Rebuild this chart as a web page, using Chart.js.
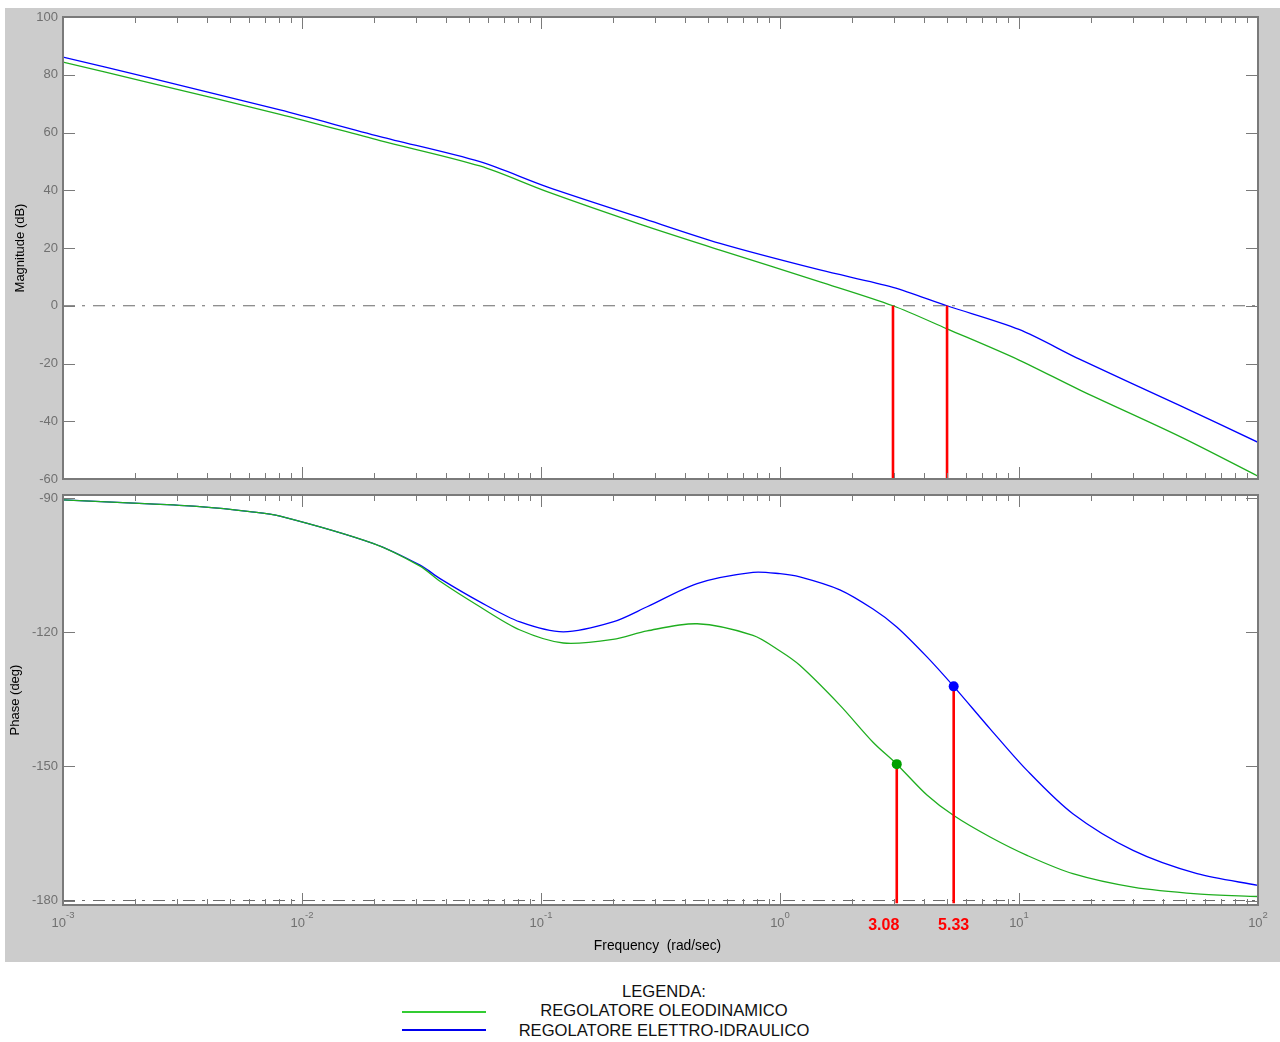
<!DOCTYPE html>
<html>
<head>
<meta charset="utf-8">
<script src="https://cdn.jsdelivr.net/npm/chart.js@4.4.0/dist/chart.umd.min.js"></script>
<style>
  body { margin: 0; background: #fff; width: 1280px; height: 1042px; position: relative; overflow: hidden;
         font-family: "Liberation Sans", Arial, sans-serif; }
  #fig { position: absolute; left: 5px; top: 8px; width: 1275px; height: 954px; background: #ccc; }
  canvas { position: absolute; left: 5px; }
  #cMag { top: 8px; }
  #cPhase { top: 487px; }
  .lg { position: absolute; left: 0; width: 1328px; text-align: center; font-size: 16.6px; color: #111; line-height: 20px; }
  .sw { position: absolute; left: 402px; width: 84px; height: 2px; }
</style>
</head>
<body>
<div id="fig"></div>
<canvas id="cMag" width="1275" height="479"></canvas>
<canvas id="cPhase" width="1275" height="475"></canvas>

<div class="lg" style="top:982px">LEGENDA:</div>
<div class="lg" style="top:1001px">REGOLATORE OLEODINAMICO</div>
<div class="lg" style="top:1021px">REGOLATORE ELETTRO-IDRAULICO</div>
<div class="sw" style="top:1011px;background:#33cc33"></div>
<div class="sw" style="top:1029px;background:#0000ee"></div>

<script>
"use strict";

/* values (rad/sec, dB, deg) */
const magFreq     = [0.001, 0.00231, 0.00809, 0.0212, 0.0555, 0.106, 0.259, 0.561, 1.47, 2.97, 5.0, 10, 18.0, 47.2, 100];
const magOleo     = [84.4, 77.2, 66.3, 57.2, 48.4, 39.5, 28.3, 19.3, 8.3, 0.0, -8.0, -18.8, -29.2, -45.3, -59.0];
const magElettro  = [86.1, 78.9, 67.8, 58.6, 49.9, 41.2, 30.6, 21.6, 12.4, 6.4, 0.0, -8.2, -18.6, -34.6, -47.3];

const phaseFreq    = [0.001, 0.00231, 0.00374, 0.00605, 0.00809, 0.0198, 0.0312, 0.0378, 0.0555, 0.0817,
                      0.124, 0.200, 0.278, 0.450, 0.771, 1.0, 1.21, 1.78, 2.45, 3.08,
                      4.12, 5.33, 7.57, 10.8, 16.8, 30.0, 55.6, 100];
const phaseOleo    = [-90.4, -91.3, -91.9, -93.0, -94.0, -100.1, -105.2, -108.6, -114.3, -119.5,
                      -122.4, -121.6, -119.7, -118.1, -120.7, -124.2, -127.4, -136.3, -144.6, -149.5,
                      -156.4, -161.0, -165.8, -169.9, -174.0, -177.0, -178.5, -179.1];
const phaseElettro = [-90.4, -91.3, -91.9, -93.0, -94.0, -100.1, -105.0, -108.0, -113.2, -117.7,
                      -119.9, -117.7, -114.3, -109.1, -106.6, -106.9, -107.6, -110.5, -114.8, -118.8,
                      -125.5, -132.1, -141.6, -150.9, -160.6, -168.8, -174.0, -176.6];

const gainCross = [2.97, 5.0];          // 0 dB crossings as drawn in the top plot
const pmFreq    = [3.08, 5.33];
const pmPhase   = [-149.5, -132.1];
const pmLabels  = ["3.08", "5.33"];

const magTicks   = [-60, -40, -20, 0, 20, 40, 60, 80, 100];
const phaseTicks = [-180, -150, -120, -90];
const decades    = [-3, -2, -1, 0, 1, 2];

const GREEN = "#1fae1f", BLUE = "#0000ff", RED = "#ff0000", AXIS = "#7a7a7a";
const FONT = '"Liberation Sans", Arial, sans-serif';

const pts = (xs, ys) => xs.map((x, i) => ({ x, y: ys[i] }));

/* MATLAB-ish axes box: inward ticks on all four sides, gray labels */
const matlabAxes = {
  id: "matlabAxes",
  beforeDraw(chart) {
    const { ctx, chartArea: a } = chart;
    ctx.save(); ctx.fillStyle = "#fff";
    ctx.fillRect(a.left, a.top, a.width, a.height); ctx.restore();
  },
  afterDraw(chart, args, o) {
    const { ctx, chartArea: a, scales: { x, y } } = chart;
    const L = Math.round(a.left), R = Math.round(a.right);
    const T = Math.round(a.top), B = Math.round(a.bottom);
    ctx.save();
    ctx.strokeStyle = AXIS; ctx.lineWidth = 1;
    ctx.beginPath();
    decades.forEach((d) => {
      for (let k = 1; k <= 9; k++) {
        if (d === 2 && k > 1) break;
        const px = Math.round(x.getPixelForValue(k * Math.pow(10, d))) + 0.5;
        const len = k === 1 ? 12 : 6;
        ctx.moveTo(px, B); ctx.lineTo(px, B - len);
        ctx.moveTo(px, T); ctx.lineTo(px, T + len);
      }
    });
    o.yTicks.forEach((v) => {
      const py = Math.round(y.getPixelForValue(v)) + 0.5;
      ctx.moveTo(L, py); ctx.lineTo(L + 12, py);
      ctx.moveTo(R, py); ctx.lineTo(R - 12, py);
    });
    ctx.stroke();
    ctx.lineWidth = 2;
    ctx.strokeRect(L, T, R - L, B - T);

    ctx.fillStyle = "#707070";
    ctx.font = "13px " + FONT;
    ctx.textAlign = "right"; ctx.textBaseline = "middle";
    o.yTicks.forEach((v) => ctx.fillText(String(v), L - 5, y.getPixelForValue(v)));

    if (o.xLabels) {
      decades.forEach((d) => {
        const px = x.getPixelForValue(Math.pow(10, d));
        ctx.font = "13px " + FONT;
        const w1 = ctx.measureText("10").width;
        ctx.font = "9.5px " + FONT;
        const w2 = ctx.measureText(String(d)).width;
        const x0 = px - (w1 + w2) / 2;
        ctx.textAlign = "left";
        ctx.font = "13px " + FONT;
        ctx.fillText("10", x0, B + 18);
        ctx.font = "9.5px " + FONT;
        ctx.fillText(String(d), x0 + w1, B + 10);
      });
      ctx.fillStyle = RED; ctx.font = "bold 16px " + FONT; ctx.textAlign = "center";
      const shift = [-13, 0];
      pmFreq.forEach((f, i) => ctx.fillText(pmLabels[i], x.getPixelForValue(f) + shift[i], B + 21));
      ctx.fillStyle = "#000"; ctx.font = "13.8px " + FONT;
      ctx.fillText("Frequency  (rad/sec)", (L + R) / 2 - 3, B + 41);
    }

    ctx.fillStyle = "#000"; ctx.font = "13px " + FONT;
    ctx.translate(o.titleX, (T + B) / 2); ctx.rotate(-Math.PI / 2);
    ctx.textAlign = "center"; ctx.textBaseline = "middle";
    ctx.fillText(o.title, 0, 0);
    ctx.restore();
  },
};

const curve = (data, color) => ({ data, borderColor: color, borderWidth: 1.3, pointRadius: 0,
  tension: 0.3, order: 3 });
const refLine = (v) => ({ data: [{ x: 0.001, y: v }, { x: 100, y: v }], borderColor: "#6a6a6a",
  borderWidth: 1, borderDash: [12, 7, 3, 8], pointRadius: 0, order: 5 });
const stem = (data) => ({ data, borderColor: RED, borderWidth: 2.6, pointRadius: 0, order: 2 });

function baseOptions(yMin, yMax, pad, plug) {
  return {
    responsive: false, animation: false, devicePixelRatio: 1,
    layout: { padding: pad },
    scales: {
      x: { type: "logarithmic", min: 0.001, max: 100, display: false },
      y: { type: "linear", min: yMin, max: yMax, display: false },
    },
    plugins: { legend: { display: false }, tooltip: { enabled: false }, matlabAxes: plug },
  };
}

new Chart(document.getElementById("cMag"), {
  type: "line",
  data: { datasets: [
    refLine(0),
    curve(pts(magFreq, magOleo), GREEN),
    curve(pts(magFreq, magElettro), BLUE),
    ...gainCross.map((f) => stem([{ x: f, y: 0 }, { x: f, y: -60 }])),
  ] },
  options: baseOptions(-60, 100, { left: 58, right: 22, top: 9, bottom: 8 },
    { yTicks: magTicks, title: "Magnitude (dB)", titleX: 15, xLabels: false }),
  plugins: [matlabAxes],
});

new Chart(document.getElementById("cPhase"), {
  type: "line",
  data: { datasets: [
    refLine(-180),
    curve(pts(phaseFreq, phaseOleo), GREEN),
    curve(pts(phaseFreq, phaseElettro), BLUE),
    ...pmFreq.map((f, i) => stem([{ x: f, y: pmPhase[i] }, { x: f, y: -180.6 }])),
    { data: pts(pmFreq, pmPhase), showLine: false, pointRadius: 5, pointBorderWidth: 0,
      pointBackgroundColor: ["#00a000", BLUE], order: 1 },
  ] },
  options: baseOptions(-181, -89.3, { left: 58, right: 22, top: 8, bottom: 57 },
    { yTicks: phaseTicks, title: "Phase (deg)", titleX: 10, xLabels: true }),
  plugins: [matlabAxes],
});
</script>
</body>
</html>
